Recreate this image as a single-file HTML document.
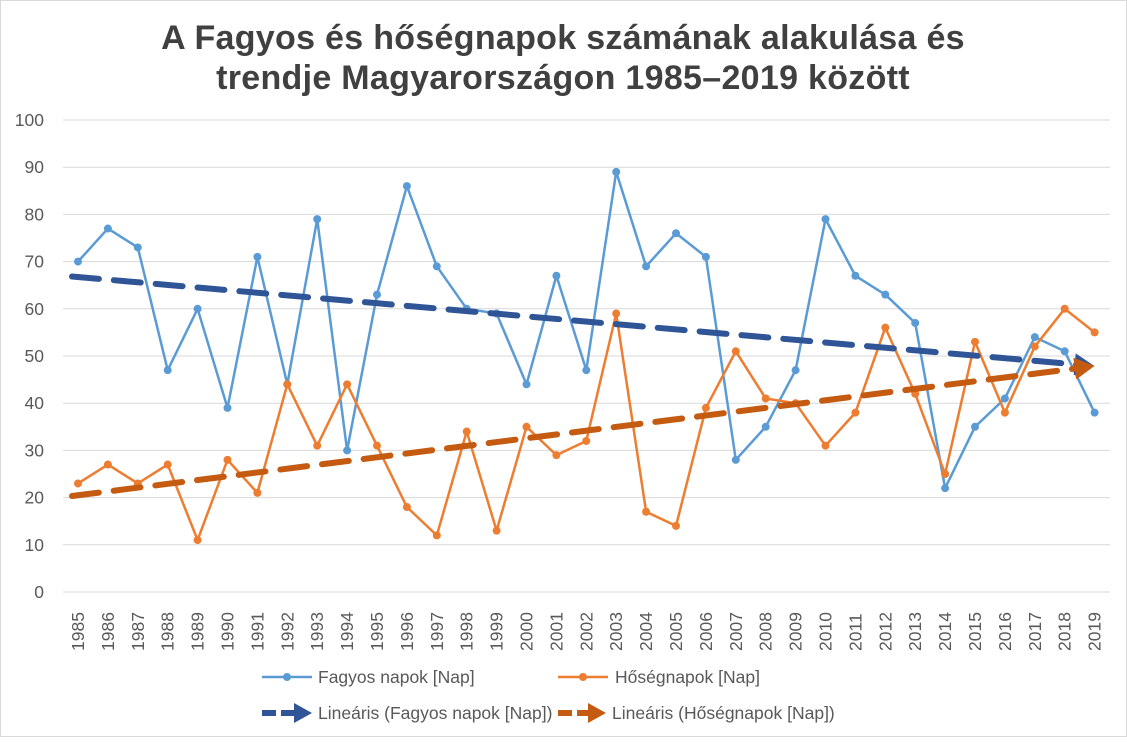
<!DOCTYPE html>
<html><head><meta charset="utf-8"><style>
body{margin:0;background:#fff}
svg text{font-family:"Liberation Sans",sans-serif}
</style></head><body>
<svg width="1127" height="737" xmlns="http://www.w3.org/2000/svg">
<rect x="0.5" y="0.5" width="1126" height="736" fill="#fff" stroke="#d9d9d9"/>
<text x="563" y="49" text-anchor="middle" font-size="34" font-weight="bold" fill="#404040" letter-spacing="0.3">A Fagyos és hőségnapok számának alakulása és</text>
<text x="563" y="89" text-anchor="middle" font-size="34" font-weight="bold" fill="#404040" letter-spacing="0.3">trendje Magyarországon 1985–2019 között</text>
<g id="g"></g>
<g id="legend">
<line x1="262" y1="677" x2="312" y2="677" stroke="#5b9bd5" stroke-width="2.5"/><circle cx="287" cy="677" r="4" fill="#5b9bd5"/>
<text x="318" y="683" font-size="17.5" fill="#595959">Fagyos napok [Nap]</text>
<line x1="558" y1="677" x2="608" y2="677" stroke="#ed7d31" stroke-width="2.5"/><circle cx="583" cy="677" r="4" fill="#ed7d31"/>
<text x="615" y="683" font-size="17.5" fill="#595959">Hőségnapok [Nap]</text>
<line x1="262" y1="713" x2="296" y2="713" stroke="#2f5597" stroke-width="6" stroke-dasharray="14,5"/><polygon points="294,703 312,713 294,723" fill="#2f5597"/>
<text x="318" y="719" font-size="17.5" fill="#595959">Lineáris (Fagyos napok [Nap])</text>
<line x1="558" y1="713" x2="590" y2="713" stroke="#c55a11" stroke-width="6" stroke-dasharray="14,5"/><polygon points="588,703 606,713 588,723" fill="#c55a11"/>
<text x="612" y="719" font-size="17.5" fill="#595959">Lineáris (Hőségnapok [Nap])</text>
</g>
</svg>
<script>
var ns="http://www.w3.org/2000/svg",g=document.getElementById("g");
function el(t,a){var e=document.createElementNS(ns,t);for(var k in a)e.setAttribute(k,a[k]);g.appendChild(e);return e;}
var y0=592,py=4.72,x0=78,dx=29.9;
function Y(v){return y0-v*py}function X(i){return x0+i*dx}
for(var v=0;v<=100;v+=10){el("line",{x1:63,x2:1110,y1:Y(v),y2:Y(v),stroke:"#d9d9d9","stroke-width":1});
var t=el("text",{x:44,y:Y(v)+6,"text-anchor":"end","font-size":17.5,fill:"#595959"});t.textContent=v;}
for(var i=0;i<35;i++){var t=el("text",{transform:"translate("+(X(i)+6)+",651) rotate(-90)","font-size":17.5,fill:"#595959"});t.textContent=1985+i;}
var f=[70,77,73,47,60,39,71,44,79,30,63,86,69,60,59,44,67,47,89,69,76,71,28,35,47,79,67,63,57,22,35,41,54,51,38];
var h=[23,27,23,27,11,28,21,44,31,44,31,18,12,34,13,35,29,32,59,17,14,39,51,41,40,31,38,56,42,25,53,38,52,60,55];
function trend(d,c){var n=d.length,sx=0,sy=0,sxy=0,sxx=0;for(var i=0;i<n;i++){sx+=i;sy+=d[i];sxy+=i*d[i];sxx+=i*i}
var b=(n*sxy-sx*sy)/(n*sxx-sx*sx),a=(sy-b*sx)/n;
var xe=X(34)-14,ye=Y(a+b*33.5);
el("line",{x1:X(0)-6,y1:Y(a),x2:xe,y2:ye,stroke:c,"stroke-width":6,"stroke-dasharray":"27,15","stroke-linecap":"round"});
var ang=Math.atan2(Y(a+b*34)-ye,X(34)-xe);
el("polygon",{points:"0,0 -20,-11 -20,11",fill:c,transform:"translate("+X(34)+","+Y(a+b*34)+") rotate("+ang*180/Math.PI+")"});}
function series(d,c){el("polyline",{points:d.map(function(v,i){return X(i)+","+Y(v)}).join(" "),fill:"none",stroke:c,"stroke-width":2.5,"stroke-linejoin":"round"});
d.forEach(function(v,i){el("circle",{cx:X(i),cy:Y(v),r:4,fill:c})});}
series(f,"#5b9bd5");series(h,"#ed7d31");
trend(f,"#2f5597");trend(h,"#c55a11");
</script>
</body></html>
